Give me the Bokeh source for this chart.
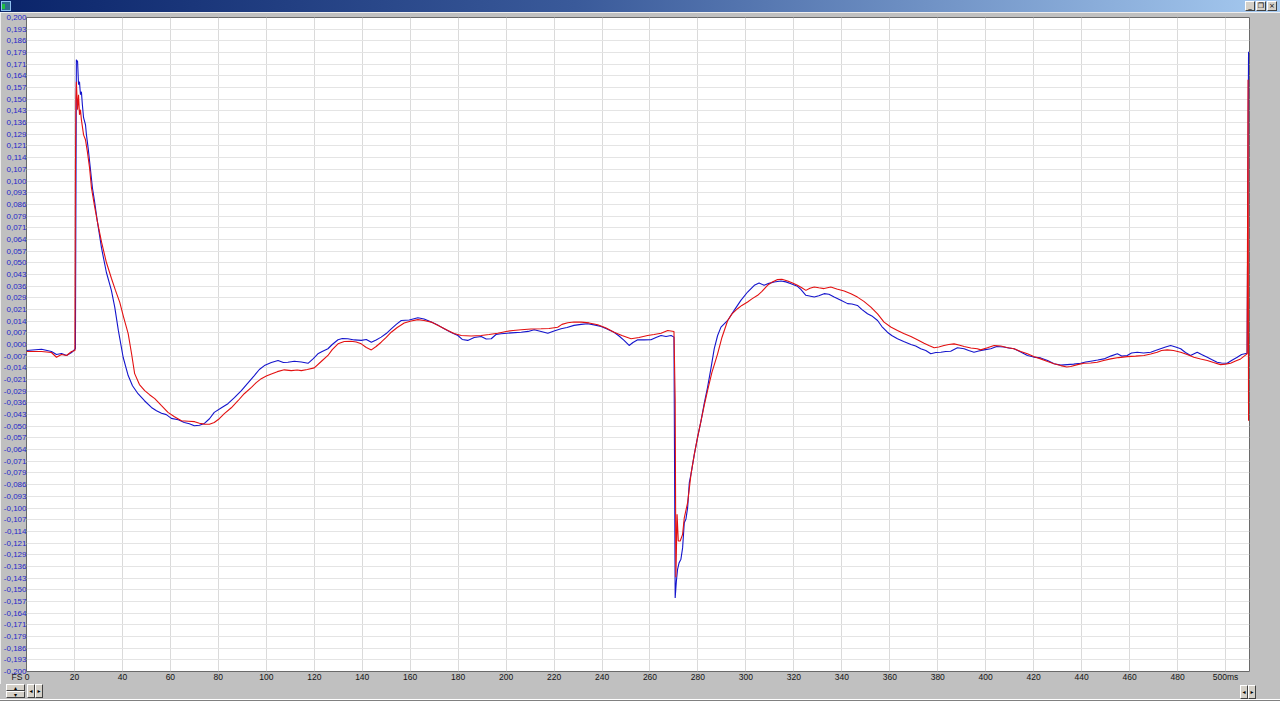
from bokeh.plotting import figure
from bokeh.layouts import column
from bokeh.models import Range1d, FixedTicker, CustomJSTickFormatter, Div
from bokeh.embed import file_html
from bokeh.resources import INLINE

# ---------------- data (time in ms, amplitude) ----------------
blue_ms = [0, 6.3, 10.4, 12.5, 14.6, 16.7, 18.8, 20.4, 20.8, 21.3, 21.7, 22.1, 22.5, 22.9, 23.3, 23.8, 24.6, 25.0,
           25.8, 26.7, 27.5, 28.3, 29.6, 31.3, 33.3, 35.4, 36.8, 38.3, 40.3, 42.4, 44.2, 46.5, 49.2, 52.1, 54.2, 56.3,
           58.3, 60.4, 63.3, 65.8, 67.9, 70.0, 72.1, 74.2, 76.3, 78.3, 81.3, 84.0, 86.7, 89.6, 92.1, 95.0, 97.1, 99.2,
           102.1, 104.9, 107.1, 109.0, 111.7, 114.6, 117.4, 119.6, 121.5, 123.3, 125.7, 127.5, 129.9, 131.7, 134.0,
           136.7, 139.6, 141.7, 143.8, 145.8, 147.9, 150.0, 152.1, 154.2, 156.3, 159.6, 163.2, 165.8, 168.8, 171.7,
           174.2, 177.1, 179.9, 181.7, 184.0, 186.7, 189.6, 191.7, 193.8, 195.8, 197.9, 202.1, 206.3, 209.2, 211.7,
           214.6, 217.4, 220.0, 222.9, 225.4, 228.3, 231.3, 234.0, 236.7, 239.6, 242.1, 245.0, 247.1, 249.2, 251.3,
           252.9, 254.9, 257.5, 260.4, 262.5, 264.6, 266.7, 268.8, 270.0, 270.5, 271.0, 271.5, 272.1, 272.9, 273.6,
           274.3, 275.0, 275.7, 276.4, 277.1, 278.5, 279.9, 281.3, 282.6, 284.0, 285.4, 286.8, 288.2, 289.6, 292.4,
           295.1, 297.9, 300.7, 303.5, 305.5, 307.6, 309.6, 311.8, 314.6, 316.7, 318.8, 321.5, 322.9, 325.0, 328.5,
           330.4, 332.6, 334.6, 336.8, 339.6, 342.4, 344.2, 346.5, 348.3, 350.7, 352.5, 354.9, 356.7, 359.0, 360.8,
           363.2, 365.8, 368.8, 370.8, 372.9, 375.0, 377.1, 379.2, 381.3, 383.3, 385.4, 388.2, 391.0, 392.9, 395.1,
           397.1, 399.3, 402.1, 404.6, 407.5, 409.6, 411.8, 414.6, 417.4, 420.0, 422.9, 425.8, 428.5, 431.3, 434.0,
           436.7, 439.6, 441.7, 443.8, 446.7, 449.3, 452.1, 454.9, 456.7, 459.0, 460.8, 463.2, 465.8, 468.8, 470.8,
           472.9, 475.0, 477.1, 479.2, 481.3, 483.3, 485.4, 488.2, 490.0, 492.4, 494.2, 496.5, 498.3, 500.7, 502.5,
           504.9, 506.7, 509.0, 509.6]
blue_amp = [-0.0037, -0.0029, -0.0043, -0.0061, -0.0055, -0.0067, -0.0049, -0.0025, 0.1742, 0.1730, 0.1589, 0.1607,
            0.1528, 0.1546, 0.1466, 0.1387, 0.1344, 0.1282, 0.1190, 0.1067, 0.0957, 0.0883, 0.0748, 0.0589, 0.0442,
            0.0331, 0.0229, 0.0086, -0.0078, -0.0190, -0.0252, -0.0301, -0.0344, -0.0385, -0.0405, -0.0421, -0.0429,
            -0.0452, -0.0460, -0.0477, -0.0485, -0.0497, -0.0494, -0.0483, -0.0454, -0.0415, -0.0387, -0.0362,
            -0.0325, -0.0282, -0.0239, -0.0190, -0.0153, -0.0129, -0.0110, -0.0098, -0.0110, -0.0109, -0.0102,
            -0.0107, -0.0115, -0.0086, -0.0057, -0.0043, -0.0026, 0.0000, 0.0029, 0.0037, 0.0035, 0.0028, 0.0025,
            0.0031, 0.0014, 0.0028, 0.0045, 0.0067, 0.0096, 0.0123, 0.0147, 0.0150, 0.0164, 0.0156, 0.0137, 0.0117,
            0.0096, 0.0074, 0.0055, 0.0031, 0.0025, 0.0043, 0.0049, 0.0034, 0.0035, 0.0061, 0.0066, 0.0071, 0.0075,
            0.0080, 0.0090, 0.0080, 0.0069, 0.0083, 0.0096, 0.0104, 0.0117, 0.0123, 0.0127, 0.0120, 0.0110, 0.0095,
            0.0075, 0.0052, 0.0025, -0.0006, 0.0012, 0.0029, 0.0028, 0.0029, 0.0043, 0.0055, 0.0049, 0.0055, 0.0045,
            -0.1550, -0.1448, -0.1376, -0.1337, -0.1313, -0.1244, -0.1090, -0.1067, -0.0998, -0.0845, -0.0793,
            -0.0671, -0.0564, -0.0466, -0.0362, -0.0262, -0.0147, -0.0025, 0.0055, 0.0106, 0.0147, 0.0209, 0.0270,
            0.0321, 0.0362, 0.0376, 0.0362, 0.0374, 0.0382, 0.0388, 0.0383, 0.0372, 0.0356, 0.0337, 0.0301, 0.0290,
            0.0298, 0.0311, 0.0307, 0.0290, 0.0270, 0.0250, 0.0248, 0.0239, 0.0215, 0.0188, 0.0175, 0.0147, 0.0110,
            0.0075, 0.0055, 0.0035, 0.0018, 0.0000, -0.0009, -0.0026, -0.0037, -0.0057, -0.0049, -0.0047, -0.0043,
            -0.0041, -0.0020, -0.0026, -0.0037, -0.0047, -0.0040, -0.0033, -0.0026, -0.0012, -0.0015, -0.0021,
            -0.0026, -0.0046, -0.0067, -0.0077, -0.0082, -0.0098, -0.0118, -0.0126, -0.0123, -0.0120, -0.0115,
            -0.0107, -0.0102, -0.0095, -0.0088, -0.0071, -0.0057, -0.0071, -0.0067, -0.0052, -0.0047, -0.0052,
            -0.0047, -0.0037, -0.0026, -0.0015, -0.0006, -0.0015, -0.0026, -0.0049, -0.0067, -0.0047, -0.0061,
            -0.0078, -0.0092, -0.0109, -0.0113, -0.0115, -0.0098, -0.0078, -0.0061, -0.0053, 0.1790]

red_ms = [0, 6.3, 10.4, 12.5, 14.6, 16.7, 18.8, 20.2, 20.4, 20.6, 20.8, 21.3, 21.7, 22.1, 22.5, 22.9, 23.8, 24.6, 25.4,
          26.3, 27.1, 28.3, 29.6, 31.3, 33.3, 35.4, 37.1, 38.9, 40.4, 42.4, 43.8, 45.1, 47.1, 49.3, 51.3, 53.5, 56.3,
          59.0, 61.7, 64.6, 67.5, 70.1, 72.1, 74.2, 76.3, 78.3, 80.4, 82.5, 85.4, 88.2, 90.8, 93.8, 95.8, 97.9, 100.0,
          102.1, 104.6, 107.5, 110.4, 112.9, 114.6, 117.1, 120.0, 122.9, 125.7, 127.5, 129.9, 132.5, 135.4, 137.5,
          139.6, 141.7, 143.8, 145.8, 147.9, 150.0, 152.1, 154.6, 157.5, 160.4, 163.2, 165.8, 168.8, 172.1, 175.7,
          178.3, 181.3, 185.4, 189.6, 192.9, 196.5, 200.0, 202.9, 206.3, 210.4, 214.6, 217.9, 221.5, 223.3, 225.7,
          228.3, 231.3, 234.6, 238.2, 241.7, 245.0, 248.3, 252.1, 255.4, 259.0, 261.7, 264.6, 267.4, 270.0, 270.5,
          270.8, 271.3, 271.8, 272.6, 273.6, 274.3, 275.7, 277.1, 278.5, 279.9, 281.3, 282.6, 284.0, 285.8, 288.2,
          290.0, 292.4, 294.2, 296.5, 298.3, 300.7, 302.5, 304.9, 306.7, 309.0, 310.8, 313.2, 315.0, 317.4, 319.2,
          321.5, 323.3, 325.0, 326.7, 328.5, 330.4, 332.6, 335.4, 337.9, 341.0, 343.8, 346.5, 349.2, 352.1, 354.9,
          357.6, 360.4, 363.2, 365.8, 368.8, 371.5, 374.3, 376.3, 378.5, 380.4, 382.6, 384.6, 386.8, 388.8, 391.0,
          393.8, 396.5, 397.9, 400.7, 403.5, 406.3, 408.8, 411.8, 414.6, 417.4, 420.0, 422.9, 425.8, 428.5, 431.3,
          433.8, 435.4, 438.3, 441.0, 443.8, 446.5, 449.2, 452.1, 455.4, 459.0, 462.5, 466.0, 468.8, 471.5, 473.3,
          475.7, 478.3, 481.3, 484.0, 486.8, 489.6, 492.4, 495.0, 497.9, 500.0, 502.1, 504.2, 506.3, 509.0, 509.4,
          509.6]
red_amp = [-0.0043, -0.0043, -0.0049, -0.0078, -0.0061, -0.0067, -0.0043, -0.0037, 0.1037, 0.1497, 0.1607, 0.1436,
           0.1528, 0.1405, 0.1436, 0.1374, 0.1282, 0.1252, 0.1178, 0.1080, 0.0957, 0.0853, 0.0748, 0.0626, 0.0503,
           0.0405, 0.0331, 0.0258, 0.0172, 0.0067, -0.0055, -0.0178, -0.0245, -0.0282, -0.0307, -0.0331, -0.0374,
           -0.0415, -0.0442, -0.0466, -0.0469, -0.0472, -0.0482, -0.0487, -0.0488, -0.0477, -0.0454, -0.0423,
           -0.0387, -0.0344, -0.0301, -0.0262, -0.0233, -0.0209, -0.0193, -0.0180, -0.0166, -0.0155, -0.0160,
           -0.0156, -0.0160, -0.0153, -0.0143, -0.0104, -0.0067, -0.0031, 0.0004, 0.0018, 0.0020, 0.0015, 0.0004,
           -0.0018, -0.0033, -0.0012, 0.0014, 0.0043, 0.0075, 0.0104, 0.0131, 0.0144, 0.0152, 0.0147, 0.0137,
           0.0113, 0.0086, 0.0067, 0.0055, 0.0052, 0.0055, 0.0061, 0.0069, 0.0080, 0.0086, 0.0090, 0.0095, 0.0096,
           0.0098, 0.0106, 0.0123, 0.0133, 0.0138, 0.0137, 0.0132, 0.0121, 0.0101, 0.0075, 0.0055, 0.0035, 0.0043,
           0.0055, 0.0061, 0.0069, 0.0086, 0.0080, -0.0337, -0.1423, -0.1039, -0.1202, -0.1202, -0.1161, -0.1060,
           -0.0967, -0.0793, -0.0671, -0.0564, -0.0466, -0.0374, -0.0282, -0.0172, -0.0057, 0.0043, 0.0147, 0.0187,
           0.0219, 0.0239, 0.0260, 0.0279, 0.0301, 0.0325, 0.0362, 0.0380, 0.0397, 0.0399, 0.0388, 0.0377, 0.0362,
           0.0347, 0.0331, 0.0344, 0.0352, 0.0347, 0.0342, 0.0352, 0.0340, 0.0327, 0.0310, 0.0290, 0.0264, 0.0229,
           0.0187, 0.0137, 0.0107, 0.0086, 0.0067, 0.0049, 0.0029, 0.0008, -0.0006, -0.0020, -0.0015, -0.0006,
           0.0000, 0.0004, -0.0003, -0.0012, -0.0021, -0.0026, -0.0033, -0.0020, -0.0006, -0.0009, -0.0018,
           -0.0026, -0.0043, -0.0057, -0.0074, -0.0088, -0.0104, -0.0118, -0.0129, -0.0138, -0.0135, -0.0123,
           -0.0115, -0.0113, -0.0109, -0.0098, -0.0088, -0.0080, -0.0074, -0.0071, -0.0067, -0.0058, -0.0047,
           -0.0037, -0.0033, -0.0037, -0.0047, -0.0061, -0.0078, -0.0089, -0.0098, -0.0110, -0.0123, -0.0120,
           -0.0115, -0.0101, -0.0088, -0.0057, 0.1620, -0.0466]

assert len(blue_ms) == len(blue_amp), (len(blue_ms), len(blue_amp))
assert len(red_ms) == len(red_amp), (len(red_ms), len(red_amp))

y_ticks = [k * 0.2 / 28 for k in range(-28, 29)]
x_ticks = list(range(0, 501, 20))
x_first_label = "FS 0"
x_last_label = "500ms"
x_min, x_max = 0, 510
y_min, y_max = -0.2, 0.2

# ---------------- layout / styles ----------------
W = 1280
TITLE_H = 12
BOTTOM_H = 17
MAIN_H = 701 - TITLE_H - BOTTOM_H
GRAY = "#c0c0c0"
BTN = "#d4d0c8"
FONT = "Liberation Sans"
BLUE = "#1414cc"
RED = "#e31010"
LABEL_BLUE = "#2626c8"

def button(left, top, w, h, sym, size=7):
    return (f'<div style="position:absolute;left:{left}px;top:{top}px;width:{w}px;height:{h}px;'
            f'box-sizing:border-box;background:{BTN};border:1px solid;'
            f'border-color:#ffffff #404040 #404040 #ffffff;font:{size}px DejaVu Sans;color:#000;'
            f'line-height:{h - 2}px;text-align:center;overflow:hidden;">{sym}</div>')

# ---------------- title bar (window chrome) ----------------
title_html = (
    f'<div style="position:relative;width:{W}px;height:{TITLE_H}px;overflow:hidden;'
    f'background:linear-gradient(to right,#0a246a 0%,#3a5a9a 45%,#a6caf0 100%);">'
    f'<div style="position:absolute;left:1px;top:1px;width:10px;height:10px;background:#2e6e8e;'
    f'box-sizing:border-box;border:1px solid #8fc0ef;"></div>'
    f'<div style="position:absolute;left:2px;top:4px;width:3px;height:5px;background:#20c040;"></div>'
    + button(W - 35, 1, 10, 10, "_") + button(W - 24, 1, 10, 10, "❐") + button(W - 13, 1, 10, 10, "×")
    + '</div>')
title_div = Div(text=title_html, width=W, height=TITLE_H,
                styles={"margin": "0", "padding": "0", "background-color": GRAY})

# ---------------- main chart ----------------
p = figure(width=W, height=MAIN_H, x_range=Range1d(x_min, x_max), y_range=Range1d(y_min, y_max),
           output_backend="svg", toolbar_location=None,
           min_border_left=25, min_border_right=31, min_border_top=5, min_border_bottom=0)
p.border_fill_color = GRAY
p.background_fill_color = "#ffffff"
p.outline_line_color = "#6a6a6a"
p.outline_line_width = 1

p.xaxis.ticker = FixedTicker(ticks=x_ticks)
p.xaxis.major_label_overrides = {x_ticks[0]: x_first_label + "\u00a0" * 5, x_ticks[-1]: x_last_label}
p.yaxis.ticker = FixedTicker(ticks=y_ticks)
p.yaxis.formatter = CustomJSTickFormatter(code="""
    if (Math.abs(tick) < 1e-9) { return '0,000'; }
    return tick.toFixed(3).replace('.', ',');
""")
for ax in (p.xaxis[0], p.yaxis[0]):
    ax.axis_line_color = None
    ax.major_tick_line_color = None
    ax.minor_tick_line_color = None
    ax.major_tick_in = 0
    ax.major_tick_out = 0
    ax.major_label_text_font = FONT
    ax.major_label_text_font_size = "8.5px"
p.yaxis.major_label_text_font_size = "8px"
p.yaxis.major_label_text_color = LABEL_BLUE
p.yaxis.major_label_standoff = 0
p.xaxis.major_label_text_color = "#141414"
p.xaxis.major_label_standoff = 0

p.xgrid.grid_line_color = "#dadada"
p.ygrid.grid_line_color = "#e4e4e4"

p.line(blue_ms, blue_amp, line_color=BLUE, line_width=1.1)
p.line(red_ms, red_amp, line_color=RED, line_width=1.1)

# ---------------- bottom strip: scroll controls (window chrome) ----------------
bottom_html = (
    f'<div style="position:relative;width:{W}px;height:{BOTTOM_H}px;background:{GRAY};overflow:hidden;">'
    + button(6, 0, 19, 7, "▴", 6) + button(6, 7, 19, 7, "▾", 6)
    + button(27, 0, 8, 14, "◂", 6) + button(35, 0, 8, 14, "▸", 6)
    + button(1240, 1, 8, 14, "◂", 6) + button(1248, 1, 8, 14, "▸", 6)
    + f'<div style="position:absolute;left:0;top:{BOTTOM_H - 2}px;width:{W}px;height:1px;background:#ffffff;"></div>'
    + f'<div style="position:absolute;left:0;top:{BOTTOM_H - 1}px;width:{W}px;height:1px;background:#808080;"></div>'
    + '</div>')
bottom_div = Div(text=bottom_html, width=W, height=BOTTOM_H,
                 styles={"margin": "0", "padding": "0", "background-color": GRAY})

layout = column(title_div, p, bottom_div, spacing=0)
open("out.html", "w").write(file_html(layout, INLINE))
